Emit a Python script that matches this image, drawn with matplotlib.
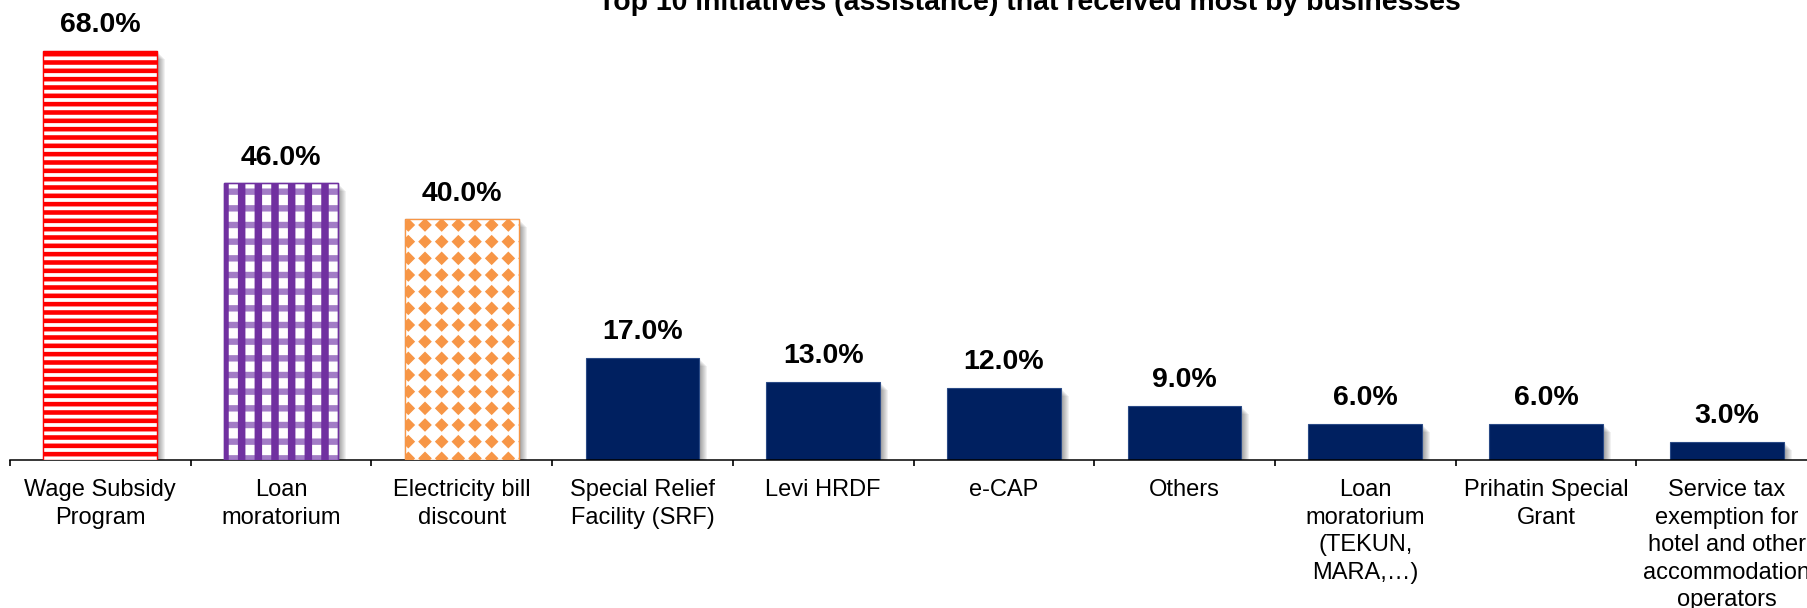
import numpy as np
import matplotlib
matplotlib.use('Agg')
import matplotlib.pyplot as plt
import matplotlib.hatch as mhatch
import matplotlib.transforms as mtransforms
from matplotlib.path import Path

initiatives = [
    'Wage Subsidy\nProgram',
    'Loan\nmoratorium',
    'Electricity bill\ndiscount',
    'Special Relief\nFacility (SRF)',
    'Levi HRDF',
    'e-CAP',
    'Others',
    'Loan\nmoratorium\n(TEKUN,\nMARA,\u2026)',
    'Prihatin Special\nGrant',
    'Service tax\nexemption for\nhotel and other\naccommodation\noperators',
]
shares = [68.0, 46.0, 40.0, 17.0, 13.0, 12.0, 9.0, 6.0, 6.0, 3.0]

plt.rcParams['font.family'] = ['Liberation Sans', 'DejaVu Sans']


class DiamondGrid(mhatch.HatchPatternBase):
    """Filled diamonds on a square grid (takes over the '*' hatch)."""
    size = 0.35

    def __init__(self, hatch, density):
        self.num_rows = hatch.count('*') * density
        self.num_vertices = self.num_rows ** 2 * 5

    def set_vertices_and_codes(self, vertices, codes):
        n = self.num_rows
        r = self.size / n
        shape = np.array([[0, -r], [r, 0], [0, r], [-r, 0], [0, -r]])
        centers = (np.arange(n) + 0.5) / n
        vertices[:] = np.concatenate([shape + [cx, cy] for cy in centers for cx in centers])
        one = [Path.MOVETO, Path.LINETO, Path.LINETO, Path.LINETO, Path.CLOSEPOLY]
        codes[:] = np.tile(one, n * n)


mhatch._hatch_types = [DiamondGrid if t is mhatch.Stars else t for t in mhatch._hatch_types]


class PatternRect(plt.Rectangle):
    """Rectangle whose hatch keeps its own line width."""

    def __init__(self, *args, hatch_lw=1.0, **kwargs):
        self.hatch_lw = hatch_lw
        with plt.rc_context({'hatch.linewidth': hatch_lw}):
            super().__init__(*args, **kwargs)

    def draw(self, renderer):
        with plt.rc_context({'hatch.linewidth': self.hatch_lw}):
            super().draw(renderer)


fig = plt.figure(figsize=(18.08, 6.08), dpi=100)
ax = fig.add_axes([10 / 1808, 148 / 608, 1807 / 1808, 460 / 608])

x = np.arange(len(shares))
width = 0.63

# soft drop shadow on the lower right of every bar
for k in range(1, 9):
    tr = mtransforms.offset_copy(ax.transData, fig=fig, x=k, y=-k, units='dots')
    ax.bar(x, shares, width, color='black', alpha=0.055, linewidth=0,
           transform=tr, zorder=1)

navy = ax.bar(x, shares, width, color='#002060', edgecolor='#2a4a86',
              linewidth=0.8, zorder=2)


def pattern(bar, hatch, color, lw, face='white', zorder=3):
    p = PatternRect(bar.get_xy(), bar.get_width(), bar.get_height(),
                    facecolor=face, edgecolor=color, hatch=hatch,
                    linewidth=1.0, zorder=zorder, hatch_lw=lw)
    ax.add_patch(p)
    return p


# first three bars carry the pattern fills
pattern(navy[0], '--', '#ff0000', 3.3)
pattern(navy[1], '-', '#a27cc6', 4.6)
pattern(navy[2], '*', '#f79646', 1.0)
pattern(navy[1], '|', '#7030a0', 5.4, face='none', zorder=4)

for xi, v in zip(x, shares):
    ax.annotate(f'{v:.1f}%', (xi, v), xytext=(0, 9), textcoords='offset points',
                ha='center', va='bottom', fontsize=20.5, fontweight='bold')

ax.set_xlim(-0.5, len(shares) - 0.5)
ax.set_ylim(0, 76.4)
ax.set_xticks(np.arange(-0.5, len(shares), 1))
ax.set_xticklabels([])
ax.set_xticks(x, minor=True)
ax.set_xticklabels(initiatives, minor=True, fontsize=17, linespacing=1.32)
ax.tick_params(which='major', length=4.5, width=1.2, direction='out')
ax.tick_params(which='minor', length=0, pad=14)
ax.set_yticks([])
for side in ['left', 'top', 'right']:
    ax.spines[side].set_visible(False)
ax.spines['bottom'].set_linewidth(1.1)

fig.text(1029 / 1808, 598 / 608, 'Top 10 initiatives (assistance) that received most by businesses',
         ha='center', va='baseline', fontsize=20.4, fontweight='bold')

fig.savefig('out.png', dpi=100)
